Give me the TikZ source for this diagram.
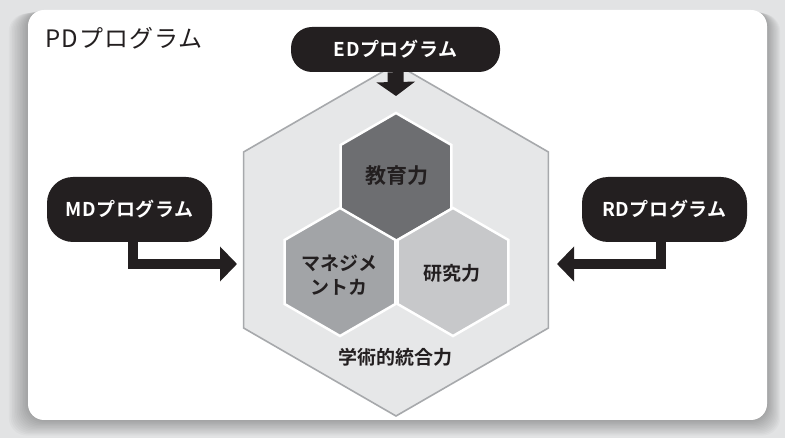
\documentclass[tikz,border=0pt]{standalone}
\usepackage{fontspec}
\newfontfamily\jpfont{Noto Sans CJK JP}[BoldFont={Noto Sans CJK JP Bold}]
\usetikzlibrary{arrows.meta,calc}

\definecolor{ink}{HTML}{231F20}
\definecolor{framegray}{HTML}{E2E3E4}
\definecolor{hexlight}{HTML}{E6E7E8}
\definecolor{hexedge}{HTML}{A7A9AC}
\definecolor{edugray}{HTML}{6D6E71}
\definecolor{mgmtgray}{HTML}{A2A4A7}
\definecolor{resgray}{HTML}{C7C8CA}

\begin{document}
\begin{tikzpicture}[x=1pt,y=-1pt,font=\jpfont,
  prog/.style={fill=ink,text=white,font=\jpfont\bfseries\fontsize{19}{21}\selectfont\addfontfeatures{LetterSpace=3},inner sep=0pt},
  flow/.style={ink,line width=10pt,-{Triangle[length=17pt,width=34pt]}},
  hexlabel/.style={text=ink,font=\jpfont\bfseries\fontsize{19}{24}\selectfont,align=center}]
  % Define hexagon sizes
  \def\bigr{176}
  \def\smallr{64}

  % Frame and white panel
  \useasboundingbox (0,0) rectangle (785,438);
  \fill[framegray] (0,0) rectangle (785,438);
  \foreach \k in {1,...,12} {
    \fill[black,opacity=0.025,rounded corners=18] (28-1.6*\k,10+0.3*\k) rectangle (767+1.1*\k,420+1.3*\k);
  }
  \fill[white,rounded corners=16] (28,10) rectangle (767,420);
  \node[anchor=west,text=ink,font=\jpfont\fontsize{24}{26}\selectfont\addfontfeatures{LetterSpace=4}] (pd) at (42,38) {PDプログラム};

  % Outer hexagon
  \coordinate (whole) at (396,240);
  \filldraw[fill=hexlight,draw=hexedge,line width=1.6pt]
    ($(whole)+(30:\bigr)$) \foreach \a in {90,150,...,330} {-- ($(whole)+(\a:\bigr)$)} -- cycle;

  % Three inner hexagons
  \foreach \c/\col in {{396,177}/edugray, {340,272}/mgmtgray, {453,272}/resgray} {
    \filldraw[fill=\col,draw=white,line width=2.5pt]
      ($(\c)+(30:\smallr)$) \foreach \a in {90,150,...,330} {-- ($(\c)+(\a:\smallr)$)} -- cycle;
  }
  \node[hexlabel,font=\jpfont\bfseries\fontsize{21}{24}\selectfont] (edu) at (397,176) {教育力};
  \node[hexlabel] (mgmt) at (339,275) {マネジメ\\ントカ};
  \node[hexlabel] (res) at (452,273) {研究力};
  \node[hexlabel] (whole label) at (395,357) {学術的統合力};

  % Program boxes
  \node[prog,minimum width=209pt,minimum height=45pt,rounded corners=21pt] (ed) at (395.5,49.5) {EDプログラム};
  \node[prog,minimum width=165pt,minimum height=65pt,rounded corners=26pt] (md) at (129.5,209.5) {MDプログラム};
  \node[prog,minimum width=165pt,minimum height=65pt,rounded corners=26pt] (rd) at (664.5,209.5) {RDプログラム};

  % Arrows into the hexagon
  \coordinate (edtip) at (396,96);
  \coordinate (mdtip) at (237,264);
  \coordinate (rdtip) at (557,264);
  \draw[ink,line width=16pt,-{Triangle[length=14pt,width=38pt]}] (ed.south) -- (edtip);
  \draw[flow] ([xshift=3]md.south) |- (mdtip);
  \draw[flow] ([xshift=-4]rd.south) |- (rdtip);
\end{tikzpicture}
\end{document}
